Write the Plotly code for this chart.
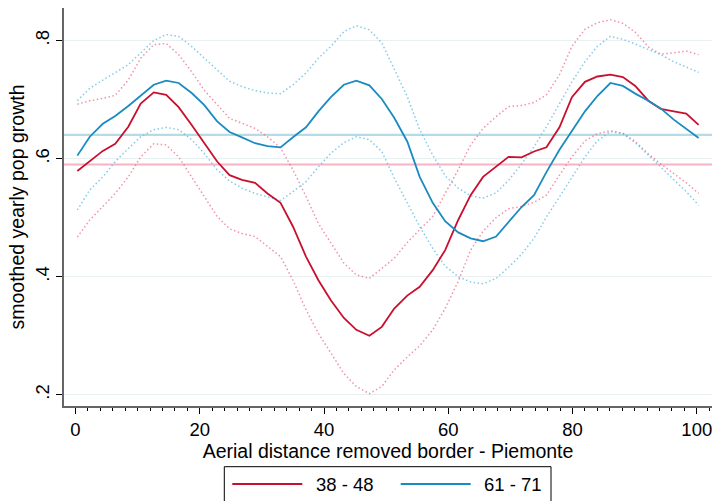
import plotly.graph_objects as go

# distance grid (aerial distance from border)
distance = [0.3, 2.3, 4.4, 6.4, 8.5, 10.5, 12.6, 14.6, 16.6, 18.7,
            20.7, 22.8, 24.8, 26.8, 28.9, 30.9, 33.0, 35.0, 37.1, 39.1,
            41.1, 43.2, 45.2, 47.3, 49.3, 51.3, 53.4, 55.4, 57.5, 59.5,
            61.6, 63.6, 65.6, 67.7, 69.7, 71.8, 73.8, 75.8, 77.9, 79.9,
            82.0, 84.0, 86.1, 88.1, 90.1, 92.2, 94.2, 96.3, 98.3, 100.3]

# cohort 38 - 48
red_mean = [0.579, 0.595, 0.613, 0.625, 0.654, 0.693, 0.712, 0.708, 0.687, 0.657,
            0.626, 0.595, 0.572, 0.564, 0.559, 0.541, 0.525, 0.485, 0.434, 0.394,
            0.360, 0.330, 0.310, 0.300, 0.315, 0.346, 0.368, 0.383, 0.411, 0.445,
            0.496, 0.538, 0.569, 0.586, 0.603, 0.602, 0.612, 0.619, 0.653, 0.704,
            0.730, 0.739, 0.742, 0.738, 0.723, 0.698, 0.684, 0.680, 0.676, 0.657]
red_upper = [0.692, 0.698, 0.702, 0.707, 0.733, 0.770, 0.793, 0.795, 0.776, 0.747,
             0.716, 0.691, 0.668, 0.660, 0.651, 0.637, 0.618, 0.581, 0.536, 0.490,
             0.457, 0.423, 0.403, 0.397, 0.414, 0.431, 0.458, 0.479, 0.502, 0.541,
             0.581, 0.623, 0.651, 0.671, 0.688, 0.690, 0.695, 0.708, 0.742, 0.790,
             0.819, 0.830, 0.835, 0.829, 0.814, 0.789, 0.777, 0.779, 0.782, 0.776]
red_lower = [0.467, 0.496, 0.519, 0.541, 0.569, 0.603, 0.625, 0.623, 0.603, 0.569,
             0.536, 0.502, 0.481, 0.473, 0.468, 0.451, 0.434, 0.394, 0.344, 0.304,
             0.270, 0.236, 0.214, 0.202, 0.214, 0.242, 0.264, 0.283, 0.310, 0.346,
             0.392, 0.445, 0.477, 0.500, 0.515, 0.519, 0.526, 0.538, 0.572, 0.603,
             0.630, 0.642, 0.647, 0.643, 0.629, 0.608, 0.591, 0.575, 0.559, 0.541]

# cohort 61 - 71
blue_mean = [0.605, 0.637, 0.659, 0.672, 0.689, 0.706, 0.725, 0.732, 0.728, 0.711,
             0.691, 0.663, 0.645, 0.636, 0.626, 0.621, 0.619, 0.636, 0.653, 0.680,
             0.704, 0.725, 0.732, 0.724, 0.701, 0.669, 0.629, 0.569, 0.525, 0.494,
             0.475, 0.465, 0.460, 0.468, 0.493, 0.518, 0.538, 0.577, 0.615, 0.647,
             0.680, 0.706, 0.728, 0.723, 0.710, 0.698, 0.685, 0.666, 0.650, 0.635]
blue_upper = [0.698, 0.719, 0.733, 0.745, 0.759, 0.779, 0.800, 0.810, 0.807, 0.790,
              0.770, 0.750, 0.731, 0.722, 0.715, 0.711, 0.710, 0.725, 0.745, 0.770,
              0.790, 0.815, 0.825, 0.818, 0.796, 0.753, 0.705, 0.649, 0.606, 0.571,
              0.550, 0.537, 0.533, 0.542, 0.563, 0.591, 0.620, 0.654, 0.694, 0.730,
              0.764, 0.790, 0.807, 0.802, 0.794, 0.785, 0.776, 0.764, 0.755, 0.746]
blue_lower = [0.513, 0.547, 0.569, 0.595, 0.617, 0.637, 0.649, 0.653, 0.649, 0.632,
              0.609, 0.581, 0.562, 0.550, 0.541, 0.535, 0.529, 0.544, 0.561, 0.586,
              0.609, 0.627, 0.637, 0.632, 0.612, 0.567, 0.525, 0.485, 0.448, 0.418,
              0.400, 0.391, 0.388, 0.397, 0.416, 0.438, 0.465, 0.501, 0.535, 0.569,
              0.603, 0.630, 0.646, 0.642, 0.627, 0.606, 0.586, 0.565, 0.544, 0.521]

# overall averages (horizontal reference lines)
red_avg = 0.590
blue_avg = 0.640

y_ticks = [0.2, 0.4, 0.6, 0.8]
y_tick_labels = [".2", ".4", ".6", ".8"]
x_ticks = [0, 20, 40, 60, 80, 100]
legend_labels = ["38 - 48", "61 - 71"]

RED = "#c8102e"
BLUE = "#1a8bc0"
RED_CI = "rgba(235,100,135,0.7)"
BLUE_CI = "rgba(90,185,225,0.75)"
DOT = "1.5px,2.5px"

fig = go.Figure()

for ys, col in [(red_upper, RED_CI), (red_lower, RED_CI), (blue_upper, BLUE_CI), (blue_lower, BLUE_CI)]:
    fig.add_trace(go.Scatter(x=distance, y=ys, mode="lines", showlegend=False,
                             hoverinfo="skip", line=dict(color=col, width=1.5, dash=DOT)))

fig.add_trace(go.Scatter(x=distance, y=red_mean, mode="lines", name=legend_labels[0],
                         showlegend=False, line=dict(color=RED, width=1.8)))
fig.add_trace(go.Scatter(x=distance, y=blue_mean, mode="lines", name=legend_labels[1],
                         showlegend=False, line=dict(color=BLUE, width=1.8)))

fig.add_hline(y=blue_avg, line=dict(color="#b5dbe7", width=2.2), layer="below")
fig.add_hline(y=red_avg, line=dict(color="#f5b3c3", width=2.2), layer="below")

# legend box drawn below the plot (Stata style)
W, H, L, T = 648.0, 398.0, 64.0, 8.0
def px(x):
    return (x - L) / W
def py(y):
    return (T + H - y) / H

fig.add_shape(type="rect", xref="paper", yref="paper",
              x0=px(224.3), x1=px(551), y0=py(520), y1=py(466.7),
              line=dict(color="black", width=1), fillcolor="white", layer="above")
for (x0, x1, col, tx, lab) in [(232.3, 302.3, RED, 314, legend_labels[0]),
                               (400.7, 470.7, BLUE, 481.7, legend_labels[1])]:
    fig.add_shape(type="line", xref="paper", yref="paper",
                  x0=px(x0), x1=px(x1), y0=py(484), y1=py(484),
                  line=dict(color=col, width=1.8))
    fig.add_annotation(xref="paper", yref="paper", x=px(tx), y=py(484.5),
                       xanchor="left", yanchor="middle", text=lab, showarrow=False,
                       font=dict(size=18.5, color="black"))

fig.update_layout(
    width=719, height=501,
    margin=dict(l=64, r=7, t=8, b=95),
    plot_bgcolor="white", paper_bgcolor="white",
    font=dict(family="Liberation Sans, Arial, sans-serif", color="black", size=18),
    showlegend=False,
    xaxis=dict(
        range=[-1.85, 102.45], tickvals=x_ticks, ticks="outside", ticklen=6,
        tickcolor="black", showline=True, linecolor="#666666", linewidth=1.5,
        showgrid=False, zeroline=False,
        minor=dict(dtick=2, tick0=0, ticks="outside", ticklen=3, tickcolor="black", showgrid=False),
        title=dict(text="Aerial distance removed border - Piemonte", font=dict(size=19.5), standoff=0),
        tickfont=dict(size=18.5),
    ),
    yaxis=dict(
        range=[0.181, 0.855], tickvals=y_ticks, ticktext=y_tick_labels, tickangle=-90,
        ticks="outside", ticklen=6, tickcolor="black", showline=True,
        linecolor="#666666", linewidth=1.5, showgrid=True, gridcolor="#e8f0f2",
        gridwidth=1, zeroline=False,
        title=dict(text="smoothed yearly pop growth", font=dict(size=19.5), standoff=2),
        tickfont=dict(size=18.5),
    ),
)

fig.write_html("out.html")
